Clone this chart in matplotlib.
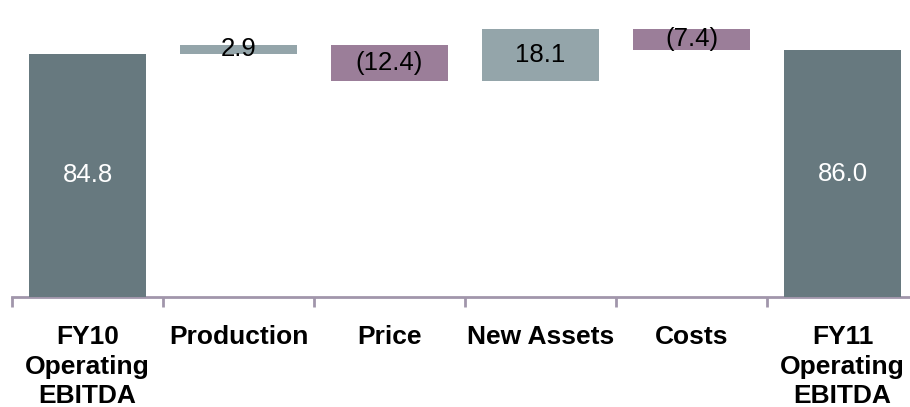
import matplotlib
matplotlib.use("Agg")
import matplotlib.pyplot as plt
import numpy as np

# Operating EBITDA bridge, FY10 -> FY11
categories = ["FY10\nOperating\nEBITDA", "Production", "Price", "New Assets", "Costs",
              "FY11\nOperating\nEBITDA"]
values = [84.8, 2.9, -12.4, 18.1, -7.4, 86.0]
is_total = [True, False, False, False, False, True]

TOTAL_COLOR = "#67797f"
UP_COLOR = "#94a5aa"
DOWN_COLOR = "#9b7e99"
AXIS_COLOR = "#a196ab"

plt.rcParams["font.family"] = ["Liberation Sans", "DejaVu Sans"]

fig = plt.figure(figsize=(9.10, 4.07), dpi=100)
W, H = 910, 407
ax = fig.add_axes([12 / W, (H - 297) / H, 906 / W, 297 / H])

x = np.arange(len(categories))
bottoms, heights, colors = [], [], []
running = 0.0
for v, tot in zip(values, is_total):
    if tot:
        bottoms.append(0.0)
        heights.append(v)
        colors.append(TOTAL_COLOR)
        running = v
    else:
        if v >= 0:
            bottoms.append(running)
            colors.append(UP_COLOR)
        else:
            bottoms.append(running + v)
            colors.append(DOWN_COLOR)
        heights.append(abs(v))
        running += v

bars = ax.bar(x, heights, bottom=bottoms, width=0.78, color=colors, zorder=3)

for xi, b, h, v, tot in zip(x, bottoms, heights, values, is_total):
    label = f"{v:.1f}" if v >= 0 else f"({abs(v):.1f})"
    ax.text(xi, b + h / 2, label, ha="center", va="center", fontsize=18.5,
            color="white" if tot else "black", zorder=4)

ax.set_xlim(-0.5, len(categories) - 0.5)
ax.set_ylim(0, 297 / 2.871)

for side in ["top", "right", "left"]:
    ax.spines[side].set_visible(False)
ax.spines["bottom"].set_color(AXIS_COLOR)
ax.spines["bottom"].set_linewidth(2)
ax.set_yticks([])

ax.set_xticks(x)
ax.set_xticklabels(categories, fontsize=19, fontweight="bold", linespacing=1.27)
ax.tick_params(axis="x", which="major", length=0, pad=20.5)
ax.set_xticks(np.arange(-0.5, len(categories)), minor=True)
ax.tick_params(axis="x", which="minor", length=7, width=2, color=AXIS_COLOR)

fig.savefig("out.png", dpi=100)
